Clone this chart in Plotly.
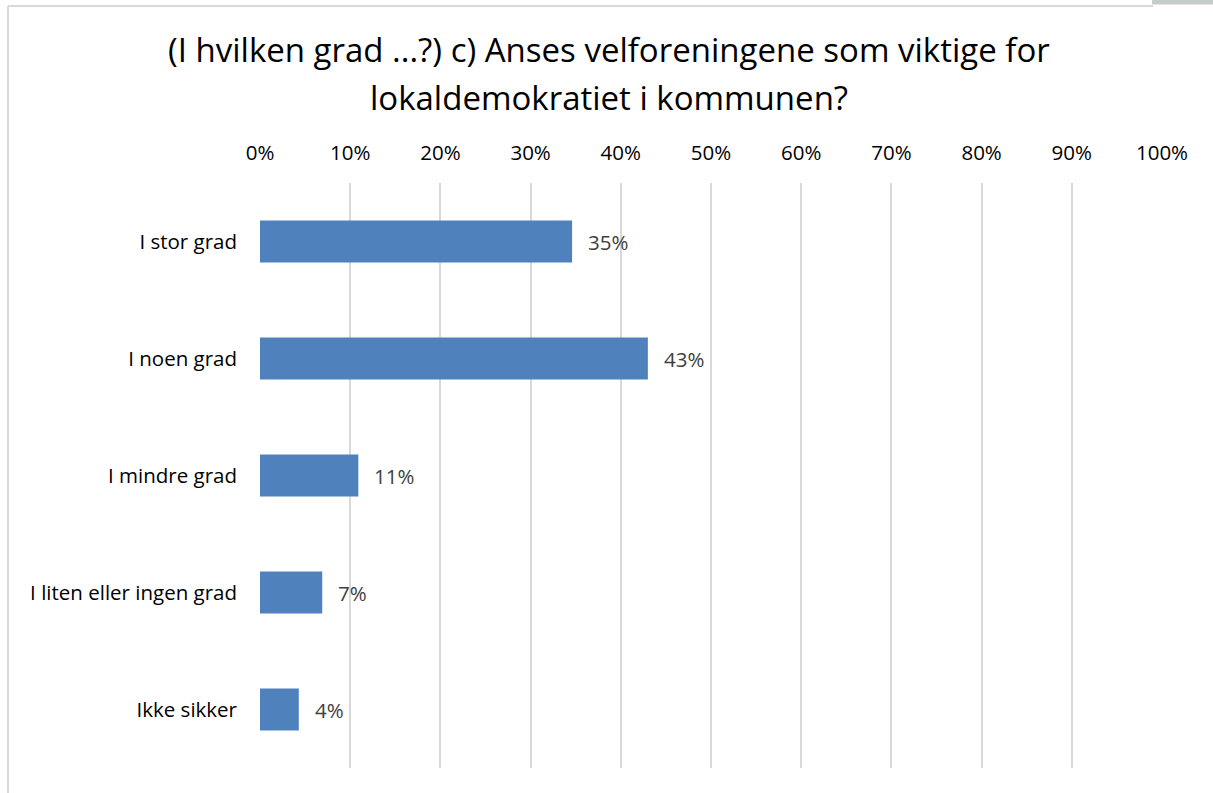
import plotly.graph_objects as go

categories = ["I stor grad", "I noen grad", "I mindre grad", "I liten eller ingen grad", "Ikke sikker"]
values = [34.6, 43.0, 10.9, 6.9, 4.3]
labels = ["35%", "43%", "11%", "7%", "4%"]
tick_vals = [0, 10, 20, 30, 40, 50, 60, 70, 80, 90, 100]
tick_text = [f"{v}%" for v in tick_vals]
title_lines = ["(I hvilken grad ...?) c) Anses velforeningene som viktige for",
               "lokaldemokratiet i kommunen?"]

FONT = "Open Sans, Liberation Sans, sans-serif"

fig = go.Figure()
fig.add_trace(go.Bar(
    x=values, y=categories, orientation="h",
    marker=dict(color="#4f81bd", line=dict(width=0)),
    width=0.36, hoverinfo="skip",
))

for v, c, t in zip(values, categories, labels):
    fig.add_annotation(x=v, y=c, text=t, showarrow=False, xanchor="left",
                       xshift=14, font=dict(family=FONT, size=20.5, color="#404040"))

for line, yp in zip(title_lines, [1.2274, 1.147]):
    fig.add_annotation(x=0.3864, y=yp, xref="paper", yref="paper", text=line,
                       showarrow=False, xanchor="center", yanchor="middle",
                       font=dict(family=FONT, size=33, color="#000000"))

fig.update_layout(
    width=1213, height=793,
    margin=dict(l=260, r=51, t=183, b=25),
    paper_bgcolor="white", plot_bgcolor="white",
    showlegend=False,
    xaxis=dict(range=[0, 100], side="top", tickvals=tick_vals, ticktext=tick_text,
               showgrid=True, gridcolor="#d9d9d9", gridwidth=2, zeroline=False,
               showline=False, ticks="", ticklabelstandoff=18,
               tickfont=dict(family=FONT, size=20.5, color="#000000")),
    yaxis=dict(categoryorder="array", categoryarray=categories[::-1],
               range=[-0.5, 4.5], showgrid=False, zeroline=False, ticks="",
               showline=False, ticklabelstandoff=22,
               tickfont=dict(family=FONT, size=20.5, color="#000000")),
    shapes=[
        dict(type="line", xref="paper", yref="paper", x0=-0.2794, x1=-0.2794,
             y0=1.3026, y1=-0.06, line=dict(color="#d9d9d9", width=2)),
        dict(type="line", xref="paper", yref="paper", x0=-0.2794, x1=0.99,
             y0=1.3026, y1=1.3026, line=dict(color="#d9d9d9", width=2)),
        dict(type="rect", xref="paper", yref="paper", x0=0.989, x1=1.07,
             y0=1.305, y1=1.32, line=dict(width=0), fillcolor="#c4cccc"),
    ],
)

fig.write_html("out.html", config={"displayModeBar": False})

with open("out.html", "r", encoding="utf-8") as f:
    html = f.read()
html = html.replace("<body>", '<body style="margin:0;padding:0;overflow:hidden">', 1)
with open("out.html", "w", encoding="utf-8") as f:
    f.write(html)
